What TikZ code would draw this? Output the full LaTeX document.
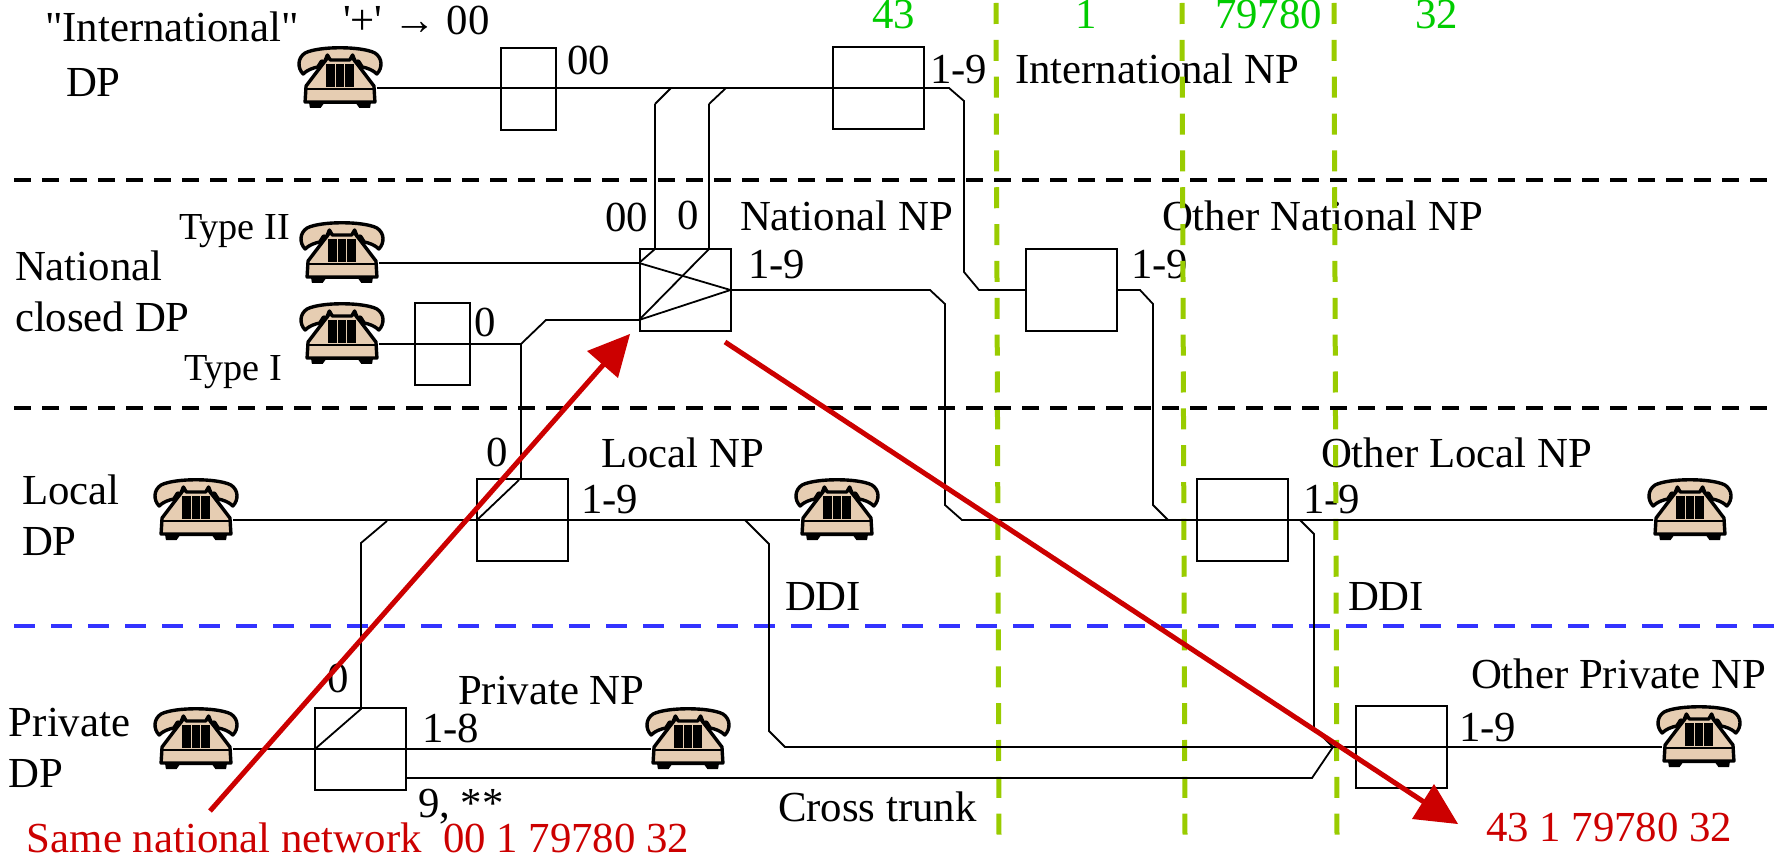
\documentclass[tikz,border=0pt]{standalone}
\usepackage{fontspec}
\setmainfont{Liberation Serif}[Ligatures=TeXOff]
\definecolor{tan}{HTML}{E6CDB2}
\definecolor{redx}{HTML}{CC0000}
\definecolor{greenx}{HTML}{00CC00}
\definecolor{limex}{HTML}{99CC00}
\definecolor{bluex}{HTML}{3333FF}
\tikzset{
  wire/.style={line width=1.8pt,line join=miter},
  swbox/.style={draw,line width=2pt,inner sep=0,outer sep=0,minimum width=91pt,minimum height=82pt},
  narrow/.style={swbox,minimum width=55pt},
  lbl/.style={anchor=base west,inner sep=0,outer sep=0,font=\fontsize{42.8}{43}\selectfont},
  small/.style={lbl,font=\fontsize{38.2}{38}\selectfont},
  rlbl/.style={lbl,text=redx},
  glbl/.style={lbl,text=greenx},
  phonebox/.style={inner sep=0,outer sep=0,minimum width=74pt,minimum height=1pt},
  blackdash/.style={line width=4pt,black,dash pattern=on 17pt off 11pt},
  bluedash/.style={line width=4pt,bluex,dash pattern=on 21pt off 16pt},
  limedash/.style={line width=5pt,limex,dash pattern=on 21pt off 15.85pt},
  redline/.style={line width=5pt,redx},
}
\newcommand{\phone}[2]{%
  \node[phonebox] (#1) at (#2) {};
  \begin{scope}[shift={(#2)},xscale=0.97,line join=round,line width=3.4pt,draw=black,fill=tan]
    % feet
    \fill[black] (-32,14) -- (-31,20) -- (-20,20) -- (-17,16) -- (17,16) -- (20,20) -- (31,20) -- (32,14) -- cycle;
    % body
    \filldraw (-13,-30) -- (13,-30) -- (35,-2) -- (36,14) -- (-36,14) -- (-35,-2) -- cycle;
    \draw[line width=2.6pt] (-35,1) -- (35,1);
    % handset
    \filldraw (-38,-14) .. controls (-44,-20) and (-44,-30) .. (-36,-35)
      .. controls (-22,-42) and (22,-42) .. (36,-35)
      .. controls (44,-30) and (44,-20) .. (38,-14)
      .. controls (34,-18) and (28,-20) .. (23,-21)
      -- (19,-27) -- (16,-26) -- (13,-33) -- (10,-28) -- (-10,-28) -- (-13,-33) -- (-16,-26) -- (-19,-27) -- (-23,-21)
      .. controls (-28,-20) and (-34,-18) .. (-38,-14) -- cycle;
    % keypad
    \fill[black] (-14,-24) rectangle (-5,-1);
    \fill[black] (-4,-24) rectangle (4,-1);
    \fill[black] (5,-24) rectangle (14,-1);
  \end{scope}}
\begin{document}
\begin{tikzpicture}[x=1pt,y=-1pt]
\useasboundingbox (0,0) rectangle (1778,858);
\fill[white] (0,0) rectangle (1778,858);

% labels
\node[lbl] (tintl) at (45,42) {"International"};
\node[lbl] (tdp1) at (66,97) {DP};
\node[lbl] (tplus) at (343,35) {'+' → 00};
\node[lbl] (t00a) at (567,75) {00};
\node[lbl] (t19a) at (930,84) {1-9};
\node[lbl] (tinp) at (1015,84) {International NP};
\node[small] (ttype2) at (179,240) {Type II};
\node[small] (ttype1) at (184,381) {Type I};
\node[lbl] (tnat) at (15,281) {National};
\node[lbl] (tclosed) at (15,332) {closed DP};
\node[lbl] (t00b) at (605,232) {00};
\node[lbl] (t0b) at (677,230) {0};
\node[lbl] (tnnp) at (740,231) {National NP};
\node[lbl] (t19b) at (748,279) {1-9};
\node[lbl] (tonnp) at (1162,231) {Other National NP};
\node[lbl] (t19c) at (1131,279) {1-9};
\node[lbl] (t0c) at (474,337) {0};
\node[lbl] (t0d) at (486,466) {0};
\node[lbl] (tlnp) at (601,467) {Local NP};
\node[lbl] (t19d) at (581,513) {1-9};
\node[lbl] (tlocal) at (22,504) {Local};
\node[lbl] (tdp2) at (22,555) {DP};
\node[lbl] (tolnp) at (1321,467) {Other Local NP};
\node[lbl] (t19e) at (1303,513) {1-9};
\node[lbl] (tddi1) at (785,610) {DDI};
\node[lbl] (tddi2) at (1348,610) {DDI};
\node[lbl] (t0e) at (327,692) {0};
\node[lbl] (tpnp) at (458,704) {Private NP};
\node[lbl] (t18) at (422,742) {1-8};
\node[lbl] (t9) at (418,817) {9, **};
\node[lbl] (tcross) at (778,821) {Cross trunk};
\node[lbl] (tpriv) at (9,736) {Private};
\node[lbl] (tdp3) at (9,787) {DP};
\node[lbl] (topnp) at (1471,688) {Other Private NP};
\node[lbl] (t19f) at (1459,741) {1-9};
\node[glbl] (g43) at (872,29) {43};
\node[glbl] (g1) at (1075,29) {1};
\node[glbl] (g79780) at (1215,29) {79780};
\node[glbl] (g32) at (1415,29) {32};

% boundaries
\draw[limedash] (996,3) -- (999,837);
\draw[limedash] (1182,3) -- (1185,837);
\draw[limedash] (1334,3) -- (1337,837);
\draw[blackdash] (14,180) -- (1778,180);
\draw[blackdash] (14,408) -- (1778,408);
\draw[bluedash] (14,626) -- (1778,626);

% switching boxes
\node[narrow] (b00) at (528.5,89) {};
\node[swbox] (bint) at (878.5,88) {};
\node[swbox] (bnat) at (685,290) {};
\node[swbox] (bonat) at (1071.5,290) {};
\node[narrow] (bI) at (442.5,344) {};
\node[swbox] (bloc) at (522.5,520) {};
\node[swbox] (boloc) at (1242.5,520) {};
\node[swbox] (bpriv) at (360.5,749) {};
\node[swbox] (bopriv) at (1401.5,747) {};

% phones
\phone{p1}{340,88}
\phone{p2}{342,263}
\phone{p3}{342,344}
\phone{p4}{196,520}
\phone{p5}{837,520}
\phone{p6}{1690,520}
\phone{p7}{196,749}
\phone{p8}{688,749}
\phone{p9}{1699,747}

% wires
\draw[wire] (p1.east) -- (bint.east) -- (949,88) -- (964,101) -- (964,272) -- (979,290) -- (bonat.west);
\draw[wire] (655,104) -- (671,88);
\draw[wire] (709,104) -- (726,88);
\draw[wire] (655,249) -- (655,104);
\draw[wire] (709,249) -- (709,104);
\draw[wire] (bonat.east) -- (1140,290) -- (1153,304) -- (1153,505) -- (1168,520);
\draw[wire] (p2.east) -- (639,263) -- (655,249);
\draw[wire] (639,263) -- (bnat.east);
\draw[wire] (p3.east) -- (521,344) -- (546,320) -- (639,320) -- (bnat.east);
\draw[wire] (639,320) -- (709,249);
\draw[wire] (bnat.east) -- (930,290) -- (945,304) -- (945,505) -- (962,520) -- (p6.west);
\draw[wire] (521,344) -- (521,480);
\draw[wire] (bloc.west) -- (519,480);
\draw[wire] (p4.east) -- (p5.west);
\draw[wire] (745,520) -- (769,544) -- (769,731) -- (785,747) -- (bopriv.west);
\draw[wire] (bopriv.west) -- (p9.west);
\draw[wire] (boloc.east) -- (1300,520) -- (1314,534) -- (1314,728) -- (1333,747);
\draw[wire] (p7.east) -- (p8.west);
\draw[wire] (bpriv.west) -- (361,709) -- (361,543) -- (387,521);
\draw[wire] (405,778) -- (1312,778) -- (1333,747);

% red arrows
\coordinate (ra1) at (210,811);
\coordinate (ra2) at (630,334);
\coordinate (rb1) at (725,342);
\coordinate (rb2) at (1458,824);
\draw[redline] (ra1) -- (604,364);
\fill[redx] (ra2) -- (587,351) -- (618,378) -- cycle;
\draw[redline] (rb1) -- (1424,802);
\fill[redx] (rb2) -- (1434,784) -- (1412,819) -- cycle;

\node[rlbl] (rsame) at (27,852) {Same national network};
\node[rlbl] (rdial) at (443,852) {00 1 79780 32};
\node[rlbl] (rdest) at (1486,841) {43 1 79780 32};
\end{tikzpicture}
\end{document}
